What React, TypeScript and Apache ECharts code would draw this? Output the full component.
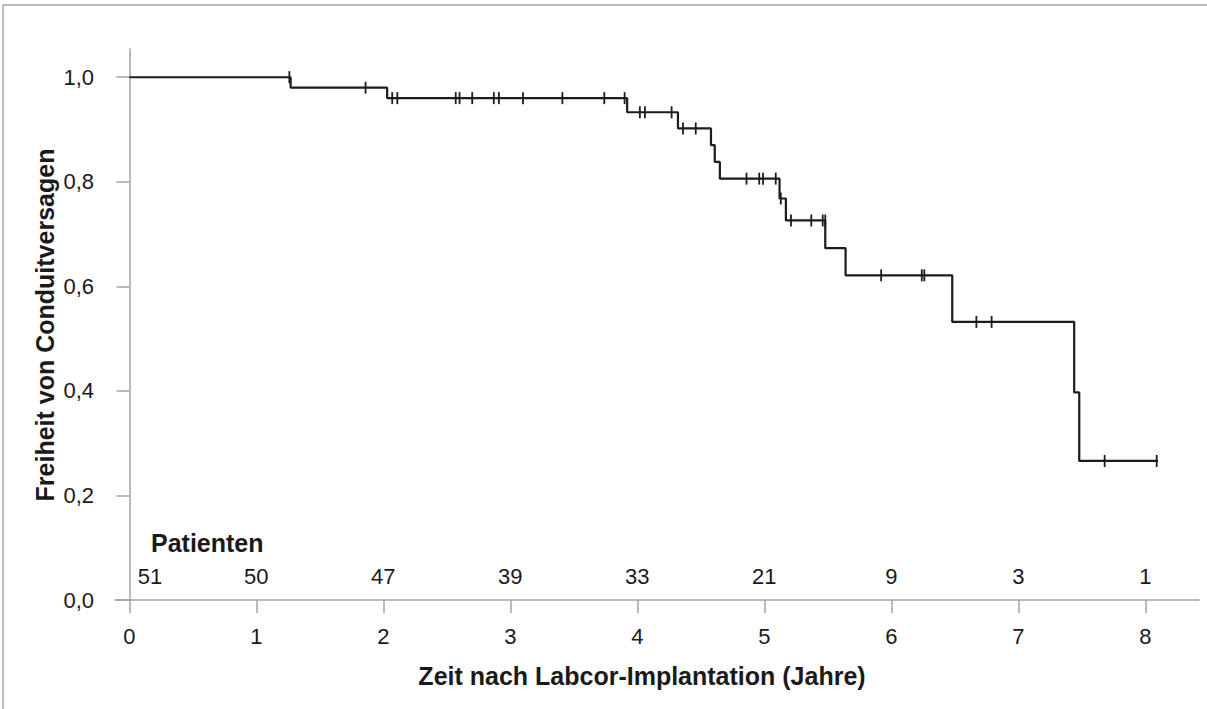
import React, { useEffect, useRef } from "react";
import * as echarts from "echarts";

// Kaplan-Meier step points (time in years, survival after event)
const eventTimes = [0, 1.27, 2.03, 3.92, 4.32, 4.58, 4.61, 4.65, 5.12, 5.17, 5.48, 5.64, 6.48, 7.44, 7.48, 8.1];
const survival = [1, 0.98, 0.96, 0.933, 0.902, 0.87, 0.838, 0.806, 0.768, 0.726, 0.673, 0.621, 0.532, 0.397, 0.266, 0.266];

// censored observations
const censorTimes = [1.26, 1.86, 2.07, 2.11, 2.57, 2.6, 2.7, 2.87, 2.91, 3.1, 3.41, 3.74, 3.9, 4.02, 4.06, 4.27, 4.36, 4.46, 4.86, 4.96, 4.99, 5.09, 5.13, 5.21, 5.37, 5.46, 5.48, 5.92, 6.24, 6.26, 6.67, 6.79, 7.68, 8.09];
const censorSurv = [1, 0.98, 0.96, 0.96, 0.96, 0.96, 0.96, 0.96, 0.96, 0.96, 0.96, 0.96, 0.96, 0.933, 0.933, 0.933, 0.902, 0.902, 0.806, 0.806, 0.806, 0.806, 0.768, 0.726, 0.726, 0.726, 0.726, 0.621, 0.621, 0.621, 0.532, 0.532, 0.266, 0.266];

// numbers at risk
const atRiskPos = [0.163, 1, 2, 3, 4, 5, 6, 7, 8];
const atRiskValues = [51, 50, 47, 39, 33, 21, 9, 3, 1];
const atRiskRowY = 0.045;

const xTicks = [0, 1, 2, 3, 4, 5, 6, 7, 8];
const yTicks = [0, 0.2, 0.4, 0.6, 0.8, 1.0];

const xTitle = "Zeit nach Labcor-Implantation (Jahre)";
const yTitle = "Freiheit von Conduitversagen";
const riskTitle = "Patienten";

const FONT = "'Liberation Sans', Arial, sans-serif";
const AXIS_COLOR = "#a3a3a3";
const TEXT_COLOR = "#1a1a1a";
const TICK_FONT = 22;
const TITLE_FONT = 25;

export default function App() {
  const ref = useRef<HTMLDivElement>(null);

  useEffect(() => {
    if (!ref.current) return;
    const chart = echarts.init(ref.current, undefined, { renderer: "svg" });
    const option: any = {
      animation: false,
      backgroundColor: "#ffffff",
      textStyle: { fontFamily: FONT },
      grid: { left: 115, right: 8, top: 49, bottom: 109, containLabel: false },
      xAxis: {
        type: "value",
        min: -0.113,
        max: 8.423,
        axisLine: { onZero: true, lineStyle: { color: AXIS_COLOR, width: 1.5 } },
        axisTick: { show: true, customValues: xTicks, length: 13, lineStyle: { color: AXIS_COLOR, width: 1.5 } },
        axisLabel: { customValues: xTicks, fontSize: TICK_FONT, color: TEXT_COLOR, margin: 25, fontFamily: FONT },
        splitLine: { show: false },
      },
      yAxis: {
        type: "value",
        min: 0,
        max: 1.054,
        axisLine: { show: true, onZero: true, lineStyle: { color: AXIS_COLOR, width: 1.5 } },
        axisTick: { show: true, customValues: yTicks, length: 13, lineStyle: { color: AXIS_COLOR, width: 1.5 } },
        axisLabel: {
          customValues: yTicks,
          fontSize: TICK_FONT,
          color: TEXT_COLOR,
          margin: 21,
          fontFamily: FONT,
          formatter: (v: number) => v.toFixed(1).replace(".", ","),
        },
        splitLine: { show: false },
      },
      series: [
        {
          type: "line",
          step: "end",
          data: eventTimes.map((t, i) => [t, survival[i]]),
          showSymbol: false,
          symbol: "none",
          lineStyle: { color: "#1c1c1c", width: 2.2 },
          z: 3,
        },
        {
          type: "scatter",
          data: censorTimes.map((t, i) => [t, censorSurv[i]]),
          symbol: "rect",
          symbolSize: [1.8, 12],
          itemStyle: { color: "#1c1c1c", opacity: 1 },
          z: 4,
        },
        {
          type: "scatter",
          data: atRiskPos.map((p, i) => [p, atRiskRowY, atRiskValues[i]]),
          symbol: "circle",
          symbolSize: 0.1,
          itemStyle: { color: TEXT_COLOR, opacity: 1 },
          label: {
            show: true,
            position: "inside",
            formatter: (p: any) => String(p.data[2]),
            fontSize: TICK_FONT,
            color: TEXT_COLOR,
            opacity: 1,
            textBorderWidth: 0,
            fontFamily: FONT,
          },
          z: 5,
        },
      ],
      graphic: [
        {
          type: "rect",
          shape: { x: 3, y: 5, width: 1300, height: 800 },
          style: { fill: "none", stroke: "#a8a8a8", lineWidth: 1.5 },
          silent: true,
        },
        {
          type: "text",
          x: 151,
          y: 543,
          style: {
            text: riskTitle,
            fontSize: TITLE_FONT,
            fontWeight: "bold",
            fill: TEXT_COLOR,
            fontFamily: FONT,
            textAlign: "left",
            textVerticalAlign: "middle",
          },
        },
        {
          type: "text",
          x: 642,
          y: 676,
          style: {
            text: xTitle,
            fontSize: TITLE_FONT,
            fontWeight: "bold",
            fill: TEXT_COLOR,
            fontFamily: FONT,
            textAlign: "center",
            textVerticalAlign: "middle",
          },
        },
        {
          type: "text",
          x: 45,
          y: 325,
          rotation: Math.PI / 2,
          style: {
            text: yTitle,
            fontSize: TITLE_FONT,
            fontWeight: "bold",
            fill: TEXT_COLOR,
            fontFamily: FONT,
            textAlign: "center",
            textVerticalAlign: "middle",
          },
        },
      ],
    };
    chart.setOption(option);
    return () => chart.dispose();
  }, []);

  return (
    <div
      ref={ref}
      style={{ position: "fixed", left: 0, top: 0, width: 1207, height: 709, background: "#fff" }}
    />
  );
}
